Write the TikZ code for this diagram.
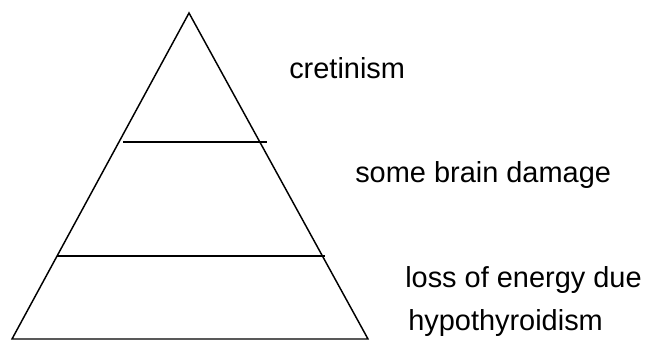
\documentclass[tikz,border=0pt]{standalone}
\usepackage{fontspec}
\setmainfont{Liberation Sans}
\begin{document}
\begin{tikzpicture}[x=0.75pt,y=-0.75pt,
  edge/.style={line width=1.1pt,line join=miter},
  bar/.style={line width=1.4pt},
  lbl/.style={anchor=base west,inner sep=0pt,font=\fontsize{21.7}{26}\selectfont}]
\useasboundingbox (0,0) rectangle (649,346);
\coordinate (apex) at (189,13);
\coordinate (bl) at (12,339);
\coordinate (br) at (368,339);
\draw[edge] (apex) -- (br) -- (bl) -- cycle;
\coordinate (a1) at (123,142);
\coordinate (b1) at (267,142);
\coordinate (a2) at (57,256);
\coordinate (b2) at (325,256);
\draw[bar] (a1) -- (b1);
\draw[bar] (a2) -- (b2);
\node[lbl] (t1) at (289,78.3) {cretinism};
\node[lbl] (t2) at (355,182.7) {some brain damage};
\node[lbl] (t3) at (405,287.7) {loss of energy due};
\node[lbl] (t4) at (408,330) {hypothyroidism};
\end{tikzpicture}
\end{document}
